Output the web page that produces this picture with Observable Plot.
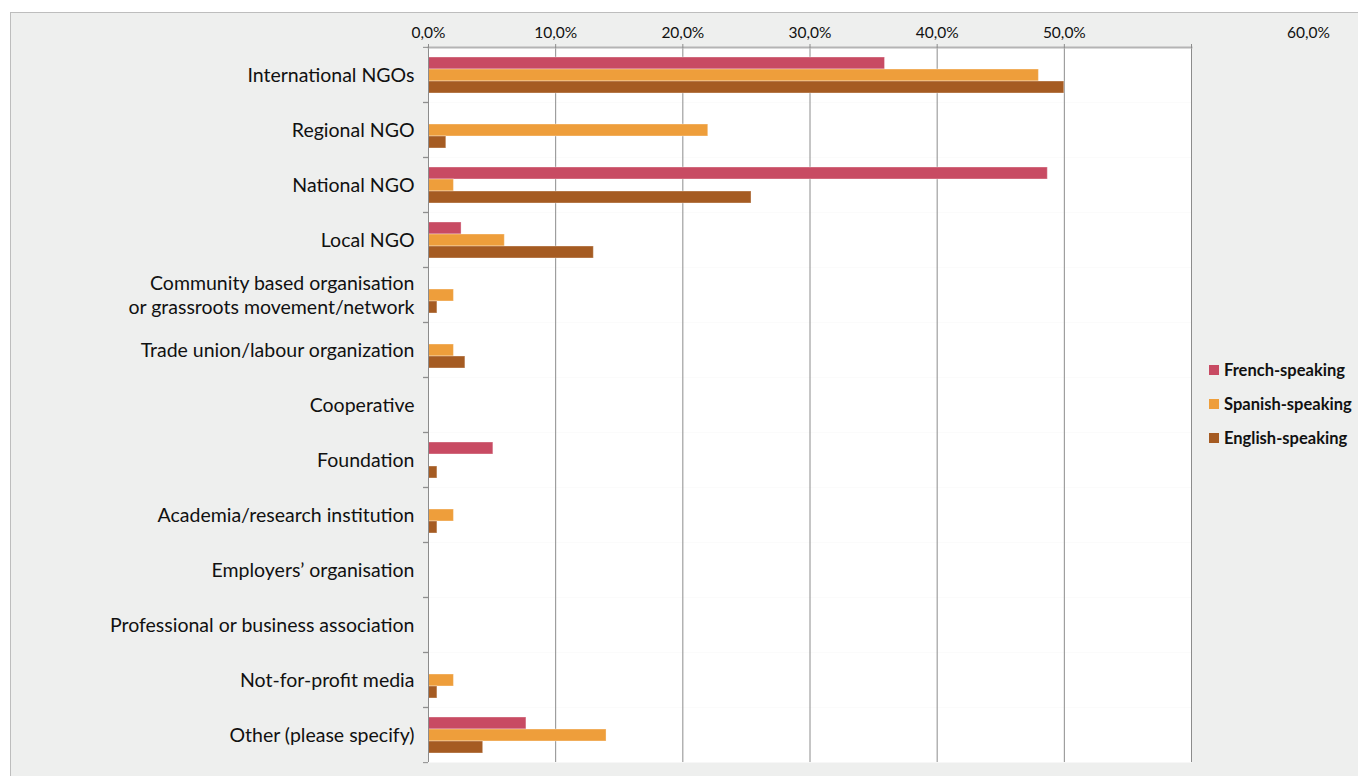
<!DOCTYPE html>
<html>
<head>
<meta charset="utf-8">
<script src="https://cdn.jsdelivr.net/npm/d3@7"></script>
<script src="https://cdn.jsdelivr.net/npm/@observablehq/plot@0.6"></script>
<style>
  html, body { margin: 0; padding: 0; background: #ffffff; }
  #wrap { position: relative; width: 1358px; height: 776px; overflow: hidden; font-family: Lato, "Open Sans", sans-serif; }
  #bg { position: absolute; left: 10px; top: 12px; width: 1400px; height: 800px; background: #EEEFEE; border: 1px solid #BDBDBD; box-sizing: border-box; }
  #chart { position: absolute; left: 0; top: 0; }
  #legend { position: absolute; left: 1209px; top: 353px; font-family: Lato, sans-serif; font-weight: bold; font-size: 16.5px; color: #111; }
  .item { display: flex; align-items: center; height: 34px; margin-top: 0; }
  .item span.sw { width: 10px; height: 10px; margin-right: 5px; display: inline-block; }
</style>
</head>
<body>
<div id="wrap">
  <div id="bg"></div>
  <div id="chart"></div>
  <div id="legend"></div>
</div>
<script>
const categories = [
  "International NGOs",
  "Regional NGO",
  "National NGO",
  "Local NGO",
  "Community based organisation\nor grassroots movement/network",
  "Trade union/labour organization",
  "Cooperative",
  "Foundation",
  "Academia/research institution",
  "Employers’ organisation",
  "Professional or business association",
  "Not-for-profit media",
  "Other (please specify)"
];
const series = ["French-speaking", "Spanish-speaking", "English-speaking"];
const colors = ["#C84B63", "#EE9E3B", "#A55B22"];
const french  = [35.9, 0, 48.7, 2.6, 0, 0, 0, 5.1, 0, 0, 0, 0, 7.7];
const spanish = [48.0, 22.0, 2.0, 6.0, 2.0, 2.0, 0, 0, 2.0, 0, 0, 2.0, 14.0];
const english = [50.0, 1.4, 25.4, 13.0, 0.7, 2.9, 0, 0.7, 0.7, 0, 0, 0.7, 4.3];
const xTicks = [0, 10, 20, 30, 40, 50];
const xLastTick = [60];

const values = [french, spanish, english];
const rows = [];
categories.forEach((c, i) => {
  series.forEach((s, j) => {
    rows.push({category: c, series: s, value: values[j][i]});
  });
});
const nonZero = rows.filter(d => d.value > 0);

const fmt = d => d.toFixed(1).replace(".", ",") + "%";
const W = 1358, H = 776, mTop = 45, mBottom = 12;
const band = (H - mTop - mBottom) / categories.length;

const chart = Plot.plot({
  width: W,
  height: H,
  marginLeft: 428,
  marginRight: 167,
  marginTop: mTop,
  marginBottom: mBottom,
  style: {background: "transparent", fontFamily: "Lato, sans-serif", color: "#111"},
  x: {domain: [0, 60], axis: null, label: null},
  y: {domain: series, paddingInner: 0, paddingOuter: 0.75, align: 0.55, axis: null},
  fy: {domain: categories, padding: 0, axis: null, label: null},
  color: {domain: series, range: colors},
  marks: [
    Plot.frame({fill: "white", stroke: "none"}),
    Plot.gridX({ticks: [10, 20, 30, 40, 50, 60], stroke: "#8C8C8C", strokeOpacity: 1}),
    Plot.barX(rows, {x: "value", y: "series", fy: "category", fill: "series", fillOpacity: 0}),
    Plot.barX(nonZero, {x: "value", y: "series", fy: "category", fill: "series", stroke: "white", strokeOpacity: 0.35, strokeWidth: 1}),
    Plot.ruleX([0], {stroke: "#8C8C8C"}),
    Plot.frame({anchor: "top", facetAnchor: "top", stroke: "#B4B4B4", strokeWidth: 2}),
    Plot.axisX({anchor: "top", facetAnchor: "top", label: null, ticks: xTicks.concat(xLastTick), tickSize: 4, text: null, stroke: "#8C8C8C"}),
    Plot.axisX({anchor: "top", facetAnchor: "top", label: null, ticks: xTicks, tickSize: 0, tickPadding: 10, tickFormat: fmt, fontSize: 15.5, fill: "#111"}),
    Plot.axisX({anchor: "top", facetAnchor: "top", label: null, ticks: xLastTick, tickSize: 0, tickPadding: 10, tickFormat: fmt, fontSize: 15.5, fill: "#111", dx: 117}),
    Plot.axisFy({anchor: "left", tickSize: 0, tickPadding: 14, fontSize: 19.5, lineHeight: 1.2, label: null, fill: "#111", dy: -0.5}),
    Plot.axisFy({anchor: "left", tickSize: 5, text: null, label: null, stroke: "#8C8C8C", dy: -band / 2}),
    Plot.axisFy({anchor: "left", tickSize: 5, text: null, label: null, stroke: "#8C8C8C", dy: band / 2})
  ]
});
document.getElementById("chart").appendChild(chart);

const legend = document.getElementById("legend");
series.forEach((s, i) => {
  const d = document.createElement("div");
  d.className = "item";
  d.innerHTML = `<span class="sw" style="background:${colors[i]}"></span><span>${s}</span>`;
  legend.appendChild(d);
});
</script>
</body>
</html>
